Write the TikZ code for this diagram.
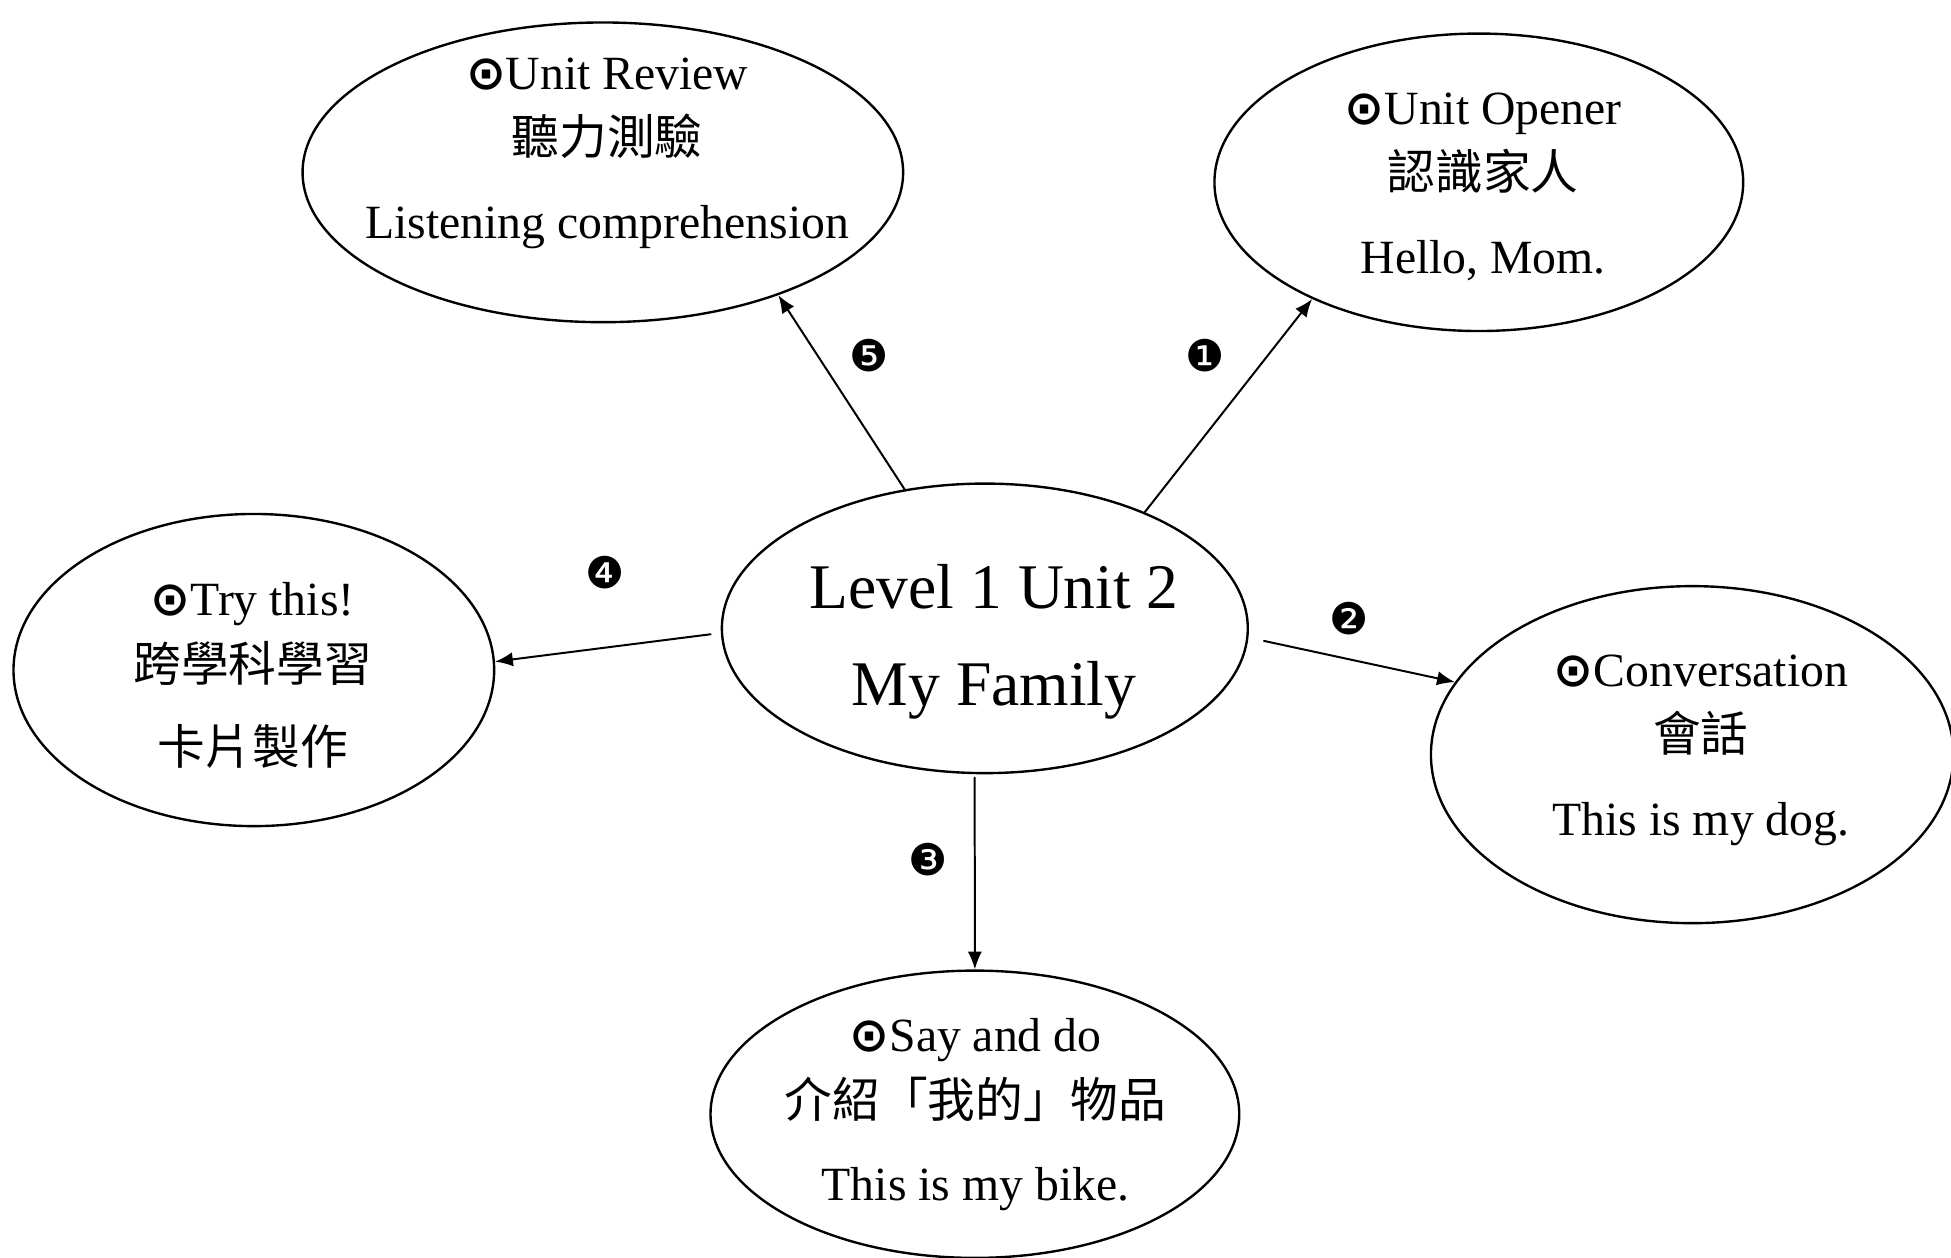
\documentclass[tikz,border=0pt]{standalone}
\usepackage{fontspec}
\setmainfont{Liberation Serif}
\newfontfamily\cjk{Noto Sans CJK TC}
\newfontfamily\sym{DejaVu Sans}
\usetikzlibrary{shapes.geometric,arrows.meta}
\tikzset{
  topic/.style={ellipse, draw, line width=0.6pt, inner sep=0pt},
  txt/.style={align=center, inner sep=0pt, font=\fontsize{12}{16.5}\selectfont},
  arr/.style={line width=0.5pt, -{Latex[length=4.5pt,width=3.6pt]}},
  num/.style={inner sep=0pt, font=\sym\fontsize{11}{11}\selectfont}
}
\newcommand\bullseye{{\sym\bfseries ⊙}}
\begin{document}
\begin{tikzpicture}[x=0.011cm, y=-0.011cm, line cap=round, line join=round]
            \useasboundingbox (0,0) rectangle (1568,1011);
            \node[topic, minimum width=4.65cm, minimum height=2.56cm] (family) at (791.5,505) {};
            \node[topic, minimum width=5.31cm, minimum height=2.65cm] (review) at (484.5,138.5) {};
            \node[topic, minimum width=4.675cm, minimum height=2.63cm] (opener) at (1188.5,146.5) {};
            \node[topic, minimum width=4.25cm, minimum height=2.76cm] (try) at (204,538.5) {};
            \node[topic, minimum width=4.62cm, minimum height=2.98cm] (talk) at (1360,606.5) {};
            \node[topic, minimum width=4.675cm, minimum height=2.54cm] (say) at (783.5,895.5) {};
            \node[txt, font=\fontsize{16}{24.5}\selectfont] (family text) at (799,516) {Level 1 Unit 2\\My Family};
            \node[txt] (review text) at (488,123) {\bullseye Unit Review\\{\cjk 聽力測驗}\\[4.5pt]Listening comprehension};
            \node[txt] (opener text) at (1192,150) {\bullseye Unit Opener\\{\cjk 認識家人}\\[4.5pt]Hello, Mom.};
            \node[txt] (try text) at (203,543) {\bullseye Try this!\\{\cjk 跨學科學習}\\[4.5pt]{\cjk 卡片製作}};
            \node[txt] (talk text) at (1367,603) {\bullseye Conversation\\{\cjk 會話}\\[4.5pt]This is my dog.};
            \node[txt] (say text) at (784,896) {\bullseye Say and do\\{\cjk 介紹「我的」物品}\\[4.5pt]This is my bike.};
            \foreach \a/\t/\b/\s in {36/opener/215/0, 358.5/talk/163.3/0.14, 266/say/90/0.03, 181.6/try/2.8/0.09, 120.7/review/325/0}
            \draw[arr, shorten <=\s cm](family.\a)--(\t.\b);
            \foreach \n/\x/\y in {1/968.5/286, 2/1084/497, 3/746/691, 4/486/460, 5/698.5/286}
            \node[num] (num\n) at (\x,\y) {\char\numexpr"2775+\n\relax};
        \end{tikzpicture}
\end{document}
